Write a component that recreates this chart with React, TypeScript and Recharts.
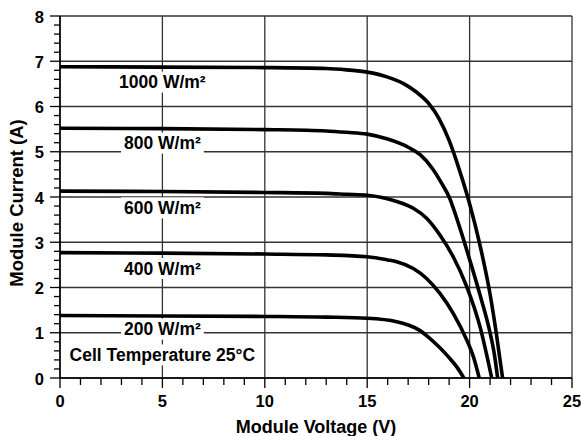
import { LineChart, Line, XAxis, YAxis, CartesianGrid, ReferenceDot, Label } from 'recharts'

// I-V curves (voltage in V, current in A)
const V_1000 = [0, 5, 10, 13, 14, 15, 16, 16.8, 17.4, 18, 18.5, 19, 19.5, 20, 20.5, 21, 21.3, 21.61]
const I_1000 = [6.88, 6.87, 6.86, 6.84, 6.81, 6.76, 6.65, 6.5, 6.32, 6.07, 5.74, 5.25, 4.6, 3.85, 2.95, 1.85, 1.0, 0]

const V_800 = [0, 5, 10, 13, 14, 15, 16, 17, 17.6, 18.2, 18.6, 19, 19.5, 20, 20.5, 21, 21.2, 21.37]
const I_800 = [5.52, 5.51, 5.49, 5.46, 5.43, 5.39, 5.28, 5.1, 4.93, 4.62, 4.33, 4.0, 3.35, 2.62, 1.85, 1.0, 0.55, 0]

const V_600 = [0, 5, 10, 13, 14, 15, 16.44, 17.25, 17.9, 18.55, 19.2, 19.86, 20.51, 21.08]
const I_600 = [4.13, 4.12, 4.1, 4.08, 4.06, 4.04, 3.9, 3.75, 3.53, 3.16, 2.68, 2.02, 1.13, 0]

const V_400 = [0, 5, 10, 13, 15, 16, 16.44, 17.25, 17.9, 18.55, 19.2, 19.86, 20.2, 20.47]
const I_400 = [2.77, 2.76, 2.74, 2.72, 2.68, 2.61, 2.57, 2.42, 2.2, 1.87, 1.43, 0.84, 0.45, 0]

const V_200 = [0, 5, 10, 13, 15, 16.44, 17, 17.5, 18, 18.5, 19, 19.4, 19.72]
const I_200 = [1.38, 1.37, 1.36, 1.345, 1.32, 1.245, 1.17, 1.07, 0.9, 0.69, 0.45, 0.23, 0]

const CURVES = [
  { key: '1000', v: V_1000, i: I_1000 },
  { key: '800', v: V_800, i: I_800 },
  { key: '600', v: V_600, i: I_600 },
  { key: '400', v: V_400, i: I_400 },
  { key: '200', v: V_200, i: I_200 },
]

// in-plot labels, all centred on 5 V
const LABEL_TEXT = ['1000 W/m²', '800 W/m²', '600 W/m²', '400 W/m²', '200 W/m²', 'Cell Temperature 25°C']
const LABEL_I = [6.54, 5.19, 3.76, 2.42, 1.08, 0.51]
const LABEL_V = 5

const X_MAJOR = [0, 5, 10, 15, 20, 25]
const Y_MAJOR = [0, 1, 2, 3, 4, 5, 6, 7, 8]
const X_TICKS = Array.from({ length: 26 }, (_, k) => k)
const Y_TICKS = Array.from({ length: 41 }, (_, k) => k / 5)

const FONT = '"Liberation Sans", Arial, sans-serif'

const isMajor = (v: number) => Math.abs(v - Math.round(v)) < 1e-6

let ctx: CanvasRenderingContext2D | null = null
function textWidth(s: string, size: number) {
  if (!ctx) ctx = document.createElement('canvas').getContext('2d')
  if (!ctx) return s.length * size * 0.55
  ctx.font = `bold ${size}px ${FONT}`
  return ctx.measureText(s).width
}

const XTick = (props: any) => {
  const { x, y, payload } = props
  const major = payload.value % 5 === 0
  return (
    <g>
      <line x1={x} x2={x} y1={y} y2={y + (major ? 10 : 7)} stroke="#000" strokeWidth={1.3} />
      {major && (
        <text x={x} y={y + 29} textAnchor="middle" fontSize={16.5} fontWeight="bold" fontFamily={FONT} fill="#000">
          {payload.value}
        </text>
      )}
    </g>
  )
}

const YTick = (props: any) => {
  const { x, y, payload } = props
  const major = isMajor(payload.value)
  return (
    <g>
      <line x1={x} x2={x - (major ? 10 : 6)} y1={y} y2={y} stroke="#000" strokeWidth={1.3} />
      {major && (
        <text x={x - 16} y={y + 6.5} textAnchor="end" fontSize={16.5} fontWeight="bold" fontFamily={FONT} fill="#000">
          {Math.round(payload.value)}
        </text>
      )}
    </g>
  )
}

const boxLabel = (text: string) => (p: any) => {
  const size = 17.5
  const w = textWidth(text, size) + 6
  const h = 21
  return (
    <g>
      <rect x={p.cx - w / 2} y={p.cy - h / 2} width={w} height={h} fill="#fff" />
      <text x={p.cx} y={p.cy + 6.3} textAnchor="middle" fontSize={size} fontWeight="bold" fontFamily={FONT} fill="#000">
        {text}
      </text>
    </g>
  )
}

export default function App() {
  return (
    <div style={{ position: 'absolute', left: 0, top: 0, background: '#fff' }}>
      <LineChart width={581} height={436} margin={{ top: 16, right: 9, left: 0, bottom: 0 }}>
        <CartesianGrid
          horizontalValues={Y_MAJOR}
          verticalValues={X_MAJOR}
          stroke="#333"
          strokeWidth={1.3}
        />
        <XAxis
          type="number"
          dataKey="v"
          domain={[0, 25]}
          ticks={X_TICKS}
          interval={0}
          height={58}
          tickSize={0}
          tickMargin={0}
          tickLine={false}
          tick={<XTick />}
          axisLine={{ stroke: '#000', strokeWidth: 1.5 }}
          allowDataOverflow
        >
          <Label
            content={(lp: any) => {
              const vb = lp.viewBox
              return (
                <text x={316} y={vb.y + vb.height - 3} textAnchor="middle" fontSize={18} fontWeight="bold" fontFamily={FONT} fill="#000">
                  Module Voltage (V)
                </text>
              )
            }}
          />
        </XAxis>
        <YAxis
          type="number"
          domain={[0, 8]}
          ticks={Y_TICKS}
          interval={0}
          width={60}
          tickSize={0}
          tickMargin={0}
          tickLine={false}
          tick={<YTick />}
          axisLine={{ stroke: '#000', strokeWidth: 1.5 }}
          allowDataOverflow
        >
          <Label
            content={() => (
              <text
                x={16}
                y={203}
                transform="rotate(-90 16 203)"
                textAnchor="middle"
                dominantBaseline="central"
                fontSize={18.5}
                fontWeight="bold"
                fontFamily={FONT}
                fill="#000"
              >
                Module Current (A)
              </text>
            )}
          />
        </YAxis>
        {CURVES.map(c => (
          <Line
            key={c.key}
            data={c.v.map((v, k) => ({ v, i: c.i[k] }))}
            dataKey="i"
            type="monotone"
            stroke="#000"
            strokeWidth={3.6}
            dot={false}
            activeDot={false}
            isAnimationActive={false}
          />
        ))}
        {LABEL_TEXT.map((t, k) => (
          <ReferenceDot key={t} x={LABEL_V} y={LABEL_I[k]} r={0} shape={boxLabel(t)} />
        ))}
      </LineChart>
    </div>
  )
}
